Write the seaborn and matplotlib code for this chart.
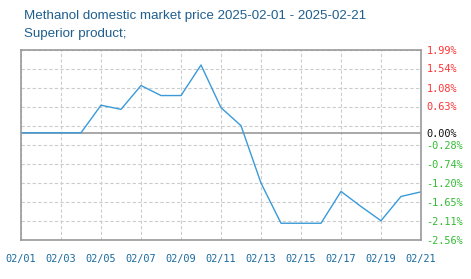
import numpy as np
import pandas as pd
import matplotlib
matplotlib.use("Agg")
import matplotlib.pyplot as plt
import seaborn as sns

# ---- data ----
dates = ["02/01", "02/02", "02/03", "02/04", "02/05", "02/06", "02/07", "02/08",
         "02/09", "02/10", "02/11", "02/12", "02/13", "02/14", "02/15", "02/16",
         "02/17", "02/18", "02/19", "02/20", "02/21"]
change_pct = [0.00, 0.00, 0.00, 0.00, 0.66, 0.56, 1.13, 0.89, 0.89, 1.62, 0.60,
              0.17, -1.20, -2.16, -2.16, -2.16, -1.40, -1.76, -2.10, -1.52, -1.41]
y_tick_values = [1.99, 1.54, 1.08, 0.63, 0.00, -0.28, -0.74, -1.20, -1.65, -2.11, -2.56]
y_tick_labels = ["1.99%", "1.54%", "1.08%", "0.63%", "0.00%", "-0.28%", "-0.74%",
                 "-1.20%", "-1.65%", "-2.11%", "-2.56%"]
x_tick_labels = ["02/01", "02/03", "02/05", "02/07", "02/09", "02/11", "02/13",
                 "02/15", "02/17", "02/19", "02/21"]
title_lines = ["Methanol domestic market price 2025-02-01 - 2025-02-21", "Superior product;"]

df = pd.DataFrame({"idx": np.arange(len(dates)), "date": dates, "pct": change_pct})

sns.set_style("white")
plt.rcParams["font.family"] = ["DejaVu Sans"]

fig = plt.figure(figsize=(4.71, 2.79), dpi=100)
ax = fig.add_axes([21 / 471, 1 - 240 / 279, 400 / 471, (240 - 49.5) / 279])

sns.lineplot(data=df, x="idx", y="pct", ax=ax, color="#3a9ad9", linewidth=1.0)

ymin, ymax = -2.56, 1.99
ax.set_xlim(0, len(dates) - 1)
ax.set_ylim(ymin, ymax)
ax.xaxis.remove_overlapping_locs = False
ax.yaxis.remove_overlapping_locs = False

# grid (minor ticks) evenly spaced
ax.set_yticks(np.linspace(ymin, ymax, 11), minor=True)
ax.set_xticks(np.arange(0, len(dates), 2), minor=True)
ax.grid(which="minor", color="#cccccc", linestyle=(0, (3, 2)), linewidth=0.8)
ax.grid(which="major", visible=False)
ax.axhline(0, color="#999999", linewidth=1.2, zorder=1.5)

# x tick labels
ax.set_xticks([dates.index(d) for d in x_tick_labels])
ax.set_xticklabels(x_tick_labels)
# y tick labels on right
ax.yaxis.tick_right()
ax.set_yticks(y_tick_values)
ax.set_yticklabels(y_tick_labels)
ax.tick_params(which="both", length=0)
ax.tick_params(axis="x", pad=10, labelsize=7.4, labelcolor="#1a6aa0")
ax.tick_params(axis="y", pad=4, labelsize=7.4)
for lab in ax.get_xticklabels():
    lab.set_family("DejaVu Sans Mono")
for lab, v in zip(ax.get_yticklabels(), y_tick_values):
    lab.set_family("DejaVu Sans Mono")
    lab.set_color("#ff3333" if v > 0 else ("#33bb33" if v < 0 else "#111111"))

for s in ax.spines.values():
    s.set_color("#999999")
    s.set_linewidth(1.2)
ax.set_xlabel("")
ax.set_ylabel("")

fig.text(24 / 471, 1 - 16 / 279, title_lines[0], color="#1f5f8f", fontsize=9.6,
         family="Liberation Sans", va="center", ha="left")
fig.text(24 / 471, 1 - 34 / 279, title_lines[1], color="#1f5f8f", fontsize=9.6,
         family="Liberation Sans", va="center", ha="left")

fig.savefig("out.png", dpi=100)
